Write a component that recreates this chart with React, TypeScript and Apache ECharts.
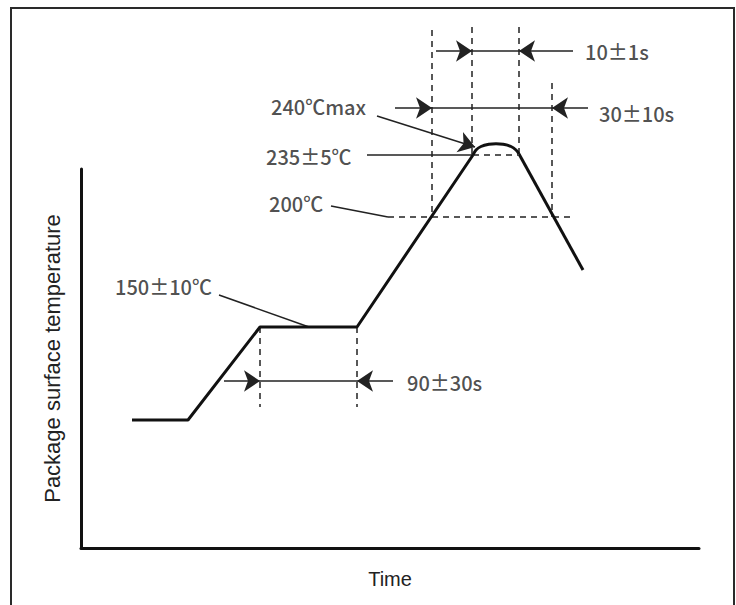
import React, { useEffect, useRef } from "react";
import * as echarts from "echarts";

// Schematic reflow profile (x: time units, y: temperature units of the sketch)
const xMax = 618;
const yMax = 379;

const profileX = [51, 107, 179, 276, 392];
const profileY = [128, 128, 221, 221, 393];
const domeX = [392, 395, 400, 408, 415, 422, 430, 435, 438];
const domeY = [393, 398, 401.5, 403.7, 404.2, 403.7, 401.5, 398, 394];
const coolingX = [438, 502];
const coolingY = [394, 278];

// dashed guide segments [x1, y1, x2, y2]
const dashedSegments: number[][] = [
  [179, 221, 179, 141],
  [276, 221, 276, 141],
  [307, 331, 494, 331],
  [351, 518, 351, 331],
  [391, 521, 391, 393],
  [438, 521, 438, 393],
  [471, 465, 471, 331],
  [392, 393, 437, 393],
];

// plain solid segments (dimension lines and leaders)
const plainSegments: number[][] = [
  [391, 497, 438, 497],
  [351, 440, 471, 440],
  [179, 167, 276, 167],
  [286, 393, 392, 393],
  [250, 342, 307, 331],
  [138, 253, 228, 221],
];

// segments ending in an arrowhead (from tail to tip)
const arrowSegments: number[][] = [
  [355, 497, 391, 497],
  [492, 497, 438, 497],
  [314, 440, 351, 440],
  [507, 440, 471, 440],
  [143, 167, 179, 167],
  [312, 167, 276, 167],
  [296, 432, 394, 401],
];

const labelTexts = ["10±1s", "30±10s", "240℃max", "235±5℃", "200℃", "150±10℃", "90±30s"];
const labelX = [504, 518, 190, 185, 188, 34, 326];
const labelY = [497, 435, 442, 392, 345, 262, 166];

const INK = "#111";
const ANN_FONT = "'Noto Sans CJK JP', 'Noto Sans', sans-serif";

function zip(xs: number[], ys: number[]) {
  return xs.map((x, i) => [x, ys[i]]);
}

export default function App() {
  const ref = useRef<HTMLDivElement>(null);

  useEffect(() => {
    if (!ref.current) return;
    const chart = echarts.init(ref.current, undefined, { renderer: "svg" });
    const curveStyle = { color: INK, width: 3 };
    const option: any = {
      animation: false,
      backgroundColor: "#fff",
      graphic: [
        {
          type: "rect",
          shape: { x: 11, y: 8, width: 723, height: 700 },
          style: { fill: "none", stroke: "#2a2a2a", lineWidth: 2 },
          silent: true,
        },
      ],
      grid: { left: 81, right: 736 - 699, top: 169, bottom: 605 - 548 },
      xAxis: {
        type: "value",
        min: 0,
        max: xMax,
        name: "Time",
        nameLocation: "middle",
        nameGap: 21,
        nameTextStyle: { fontFamily: "'Liberation Sans', Arial, sans-serif", fontSize: 20, color: "#222" },
        axisLine: { show: true, lineStyle: { color: INK, width: 3 } },
        axisTick: { show: false },
        axisLabel: { show: false },
        splitLine: { show: false },
      },
      yAxis: {
        type: "value",
        min: 0,
        max: yMax,
        name: "Package surface temperature",
        nameLocation: "middle",
        nameRotate: 90,
        nameGap: 18,
        nameTextStyle: { fontFamily: "'Liberation Sans', Arial, sans-serif", fontSize: 22, color: "#222" },
        axisLine: { show: true, lineStyle: { color: INK, width: 3 } },
        axisTick: { show: false },
        axisLabel: { show: false },
        splitLine: { show: false },
      },
      series: [
        {
          type: "line",
          data: zip(profileX, profileY),
          showSymbol: false,
          clip: false,
          lineStyle: curveStyle,
          silent: true,
        },
        {
          type: "line",
          data: zip(domeX, domeY),
          smooth: 0.4,
          showSymbol: false,
          clip: false,
          lineStyle: curveStyle,
          silent: true,
        },
        {
          type: "line",
          data: zip(coolingX, coolingY),
          showSymbol: false,
          clip: false,
          lineStyle: curveStyle,
          silent: true,
        },
        {
          type: "lines",
          coordinateSystem: "cartesian2d",
          clip: false,
          silent: true,
          symbol: "none",
          lineStyle: { color: "#222", width: 1.5, type: [6, 5], opacity: 1 },
          data: dashedSegments.map((s) => ({ coords: [[s[0], s[1]], [s[2], s[3]]] })),
        },
        {
          type: "lines",
          coordinateSystem: "cartesian2d",
          clip: false,
          silent: true,
          symbol: "none",
          lineStyle: { color: "#222", width: 1.5, type: "solid", opacity: 1 },
          data: plainSegments.map((s) => ({ coords: [[s[0], s[1]], [s[2], s[3]]] })),
        },
        {
          type: "lines",
          coordinateSystem: "cartesian2d",
          clip: false,
          silent: true,
          symbol: ["none", "arrow"],
          symbolSize: [7, 16],
          lineStyle: { color: "#222", width: 1.5, type: "solid", opacity: 1 },
          itemStyle: { color: "#222" },
          data: arrowSegments.map((s) => ({ coords: [[s[0], s[1]], [s[2], s[3]]] })),
        },
        {
          type: "scatter",
          clip: false,
          silent: true,
          symbolSize: 0,
          itemStyle: { color: "transparent" },
          label: {
            show: true,
            position: "right",
            distance: 0,
            formatter: (p: any) => p.data.name,
            fontFamily: ANN_FONT,
            fontSize: 20,
            fontWeight: 500,
            color: "#222",
          },
          data: labelTexts.map((t, i) => ({ name: t, value: [labelX[i], labelY[i]] })),
        },
      ],
    };
    chart.setOption(option);
    return () => chart.dispose();
  }, []);

  return (
    <div
      ref={ref}
      style={{ position: "fixed", left: 0, top: 0, width: 736, height: 605, background: "#fff" }}
    />
  );
}
